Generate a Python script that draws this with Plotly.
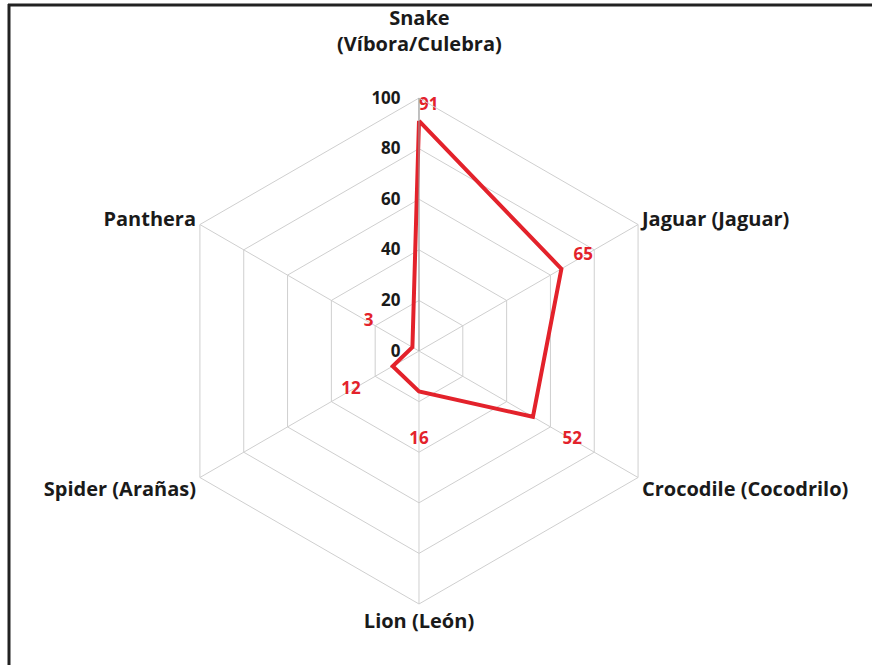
import plotly.graph_objects as go

categories = ["Snake (Víbora/Culebra)", "Jaguar (Jaguar)", "Crocodile (Cocodrilo)",
              "Lion (León)", "Spider (Arañas)", "Panthera"]
tick_text = ["", "Jaguar (Jaguar)", "Crocodile (Cocodrilo)",
             "Lion (León)", "Spider (Arañas)", "Panthera"]
top_label = "Snake<br>(Víbora/Culebra)"
values = [91, 65, 52, 16, 12, 3]
radial_ticks = [0, 20, 40, 60, 80, 100]

# label offsets (style) along each spoke
label_offset = [6, 10, 18, 19, 19, 20]
label_r = [v + o for v, o in zip(values, label_offset)]

RED = "#e3222b"
FONT = "Open Sans"

fig = go.Figure()
fig.add_trace(go.Scatterpolar(
    r=values + values[:1], theta=categories + categories[:1],
    mode="lines", line=dict(color=RED, width=4), hoverinfo="skip", showlegend=False))
fig.add_trace(go.Scatterpolar(
    r=label_r, theta=categories, mode="text", text=[str(v) for v in values],
    textfont=dict(family=FONT, size=17, color=RED, weight="bold"),
    textposition=["middle right", "middle center", "middle center", "middle center",
                  "middle center", "middle center"],
    showlegend=False, hoverinfo="skip"))

fig.update_layout(
    width=872, height=665,
    margin=dict(l=0, r=0, t=0, b=0),
    paper_bgcolor="white", plot_bgcolor="white",
    font=dict(family=FONT, color="#1a1a1a"),
    polar=dict(
        domain=dict(x=[0.1904, 0.7706], y=[0.0917, 0.8526]),
        bgcolor="white",
        gridshape="linear",
        angularaxis=dict(
            direction="clockwise", rotation=90,
            tickmode="array", tickvals=categories, ticktext=tick_text,
            linecolor="#cfcfcf", linewidth=1,
            gridcolor="#cfcfcf", gridwidth=1,
            showticklabels=True, ticks="",
            tickfont=dict(family=FONT, size=20, color="#1a1a1a", weight="bold"),
        ),
        radialaxis=dict(
            range=[0, 100], tickvals=radial_ticks, ticktext=[str(t) for t in radial_ticks],
            angle=90, tickangle=90, side="counterclockwise",
            showline=True, linecolor="#9a9a9a", linewidth=1,
            gridcolor="#cfcfcf", gridwidth=1,
            ticks="outside", ticklen=12, tickcolor="rgba(0,0,0,0)",
            tickfont=dict(family=FONT, size=17, color="#1a1a1a", weight="bold"),
        ),
    ),
    annotations=[dict(
        text=top_label, xref="paper", yref="paper", x=419/872, y=1-31/665,
        xanchor="center", yanchor="middle", showarrow=False,
        font=dict(family=FONT, size=20, color="#1a1a1a", weight="bold"))],
    shapes=[
        dict(type="line", xref="paper", yref="paper", x0=8/872, x1=1, y0=1-5/665, y1=1-5/665,
             line=dict(color="#222222", width=3)),
        dict(type="line", xref="paper", yref="paper", x0=9/872, x1=9/872, y0=0, y1=1-4/665,
             line=dict(color="#222222", width=3)),
    ],
)

fig.write_html("out.html", config={"displayModeBar": False},
               post_script="document.body.style.margin='0px';")
